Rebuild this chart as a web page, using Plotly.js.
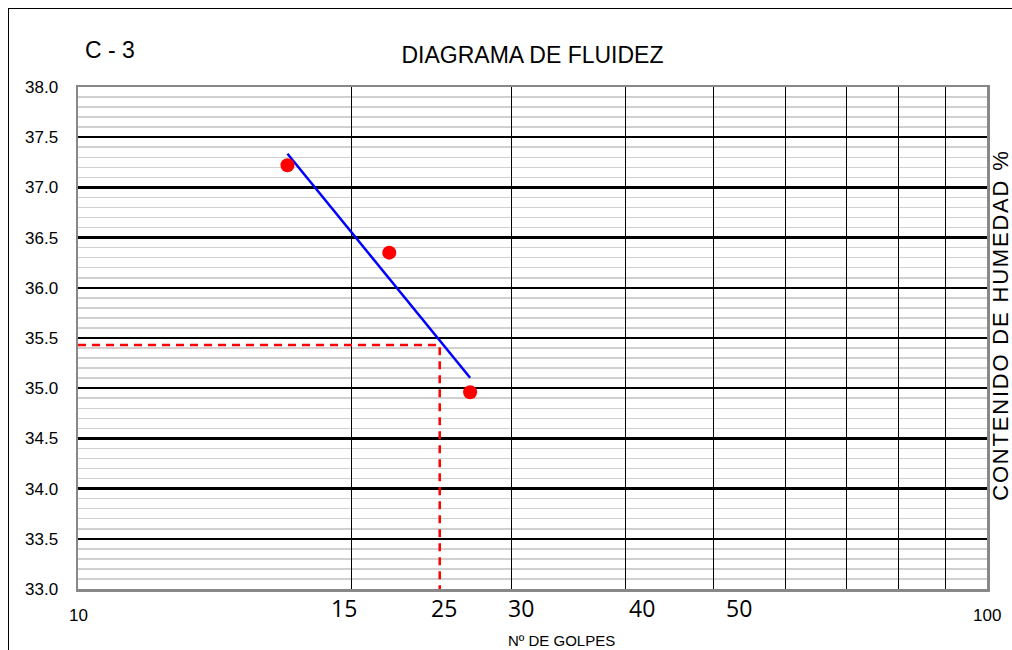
<!DOCTYPE html>
<html>
<head>
<meta charset="utf-8">
<script src="https://cdn.plot.ly/plotly-3.0.1.min.js"></script>
<style>
  html, body { margin: 0; padding: 0; background: #fff; }
  #wrap { position: relative; width: 1012px; height: 650px; overflow: hidden; }
  #frame { position: absolute; left: 8px; top: 8px; width: 1020px; height: 660px;
           border-left: 1.5px solid #000; border-top: 1.5px solid #000; pointer-events: none; }
  #chart { position: absolute; left: 0; top: 0; width: 1012px; height: 650px; }
</style>
</head>
<body>
<div id="wrap">
  <div id="chart"></div>
  <div id="frame"></div>
</div>
<script>
// Ensayo de límite líquido, muestra C - 3
const golpes = [17, 22, 27];            // Nº de golpes
const humedad = [37.22, 36.35, 34.96];  // contenido de humedad (%)
const golpesRef = 25;                   // golpes de referencia
const limiteLiquido = 35.43;            // humedad a 25 golpes

// Rótulos del eje horizontal
const rotulosExtremos = ['10', '100'];
const valoresExtremos = [10, 100];
const rotulosIntermedios = ['15', '25', '30', '40', '50'];
const posRotulosIntermedios = [19.6, 25.3, 30.7, 41.7, 53.4];
const lineasVerticales = [20, 30, 40, 50, 60, 70, 80, 90];

const tituloEjeY = 'CONTENIDO DE HUMEDAD %';

// Recta de ajuste: humedad vs log10(golpes), por mínimos cuadrados
const lx = golpes.map(v => Math.log10(v));
const mx = lx.reduce((a, b) => a + b, 0) / lx.length;
const my = humedad.reduce((a, b) => a + b, 0) / humedad.length;
let sxy = 0, sxx = 0;
lx.forEach((v, i) => { sxy += (v - mx) * (humedad[i] - my); sxx += (v - mx) * (v - mx); });
const pendiente = sxy / sxx;
const ajusteX = [golpes[0], golpes[golpes.length - 1]];
const ajusteY = ajusteX.map(v => my + pendiente * (Math.log10(v) - mx));

const trazas = [
  { x: [10, golpesRef, golpesRef], y: [limiteLiquido, limiteLiquido, 33],
    mode: 'lines', line: { color: '#ff0000', width: 2.5, dash: '8px,6px' },
    hoverinfo: 'skip', showlegend: false, cliponaxis: false },
  { x: ajusteX, y: ajusteY, mode: 'lines',
    line: { color: '#0000ff', width: 2.5 }, showlegend: false },
  { x: golpes, y: humedad, mode: 'markers',
    marker: { color: '#ff0000', size: 14 }, showlegend: false }
];

const anotaciones = [];
rotulosExtremos.forEach((t, i) => anotaciones.push({
  x: Math.log10(valoresExtremos[i]), y: 0, xref: 'x', yref: 'paper', yshift: -26,
  text: t, showarrow: false, xanchor: 'center', yanchor: 'middle',
  font: { family: 'Liberation Sans, Arial', size: 17, color: '#000' }
}));
rotulosIntermedios.forEach((t, i) => anotaciones.push({
  x: Math.log10(posRotulosIntermedios[i]), y: 0, xref: 'x', yref: 'paper', yshift: -19,
  text: t, showarrow: false, xanchor: 'center', yanchor: 'middle',
  font: { family: 'Open Sans, Noto Sans', size: 23, color: '#000' }
}));
anotaciones.push({
  x: 0.532, y: 0, xref: 'paper', yref: 'paper', yshift: -51,
  text: 'Nº DE GOLPES', showarrow: false, xanchor: 'center', yanchor: 'middle',
  font: { family: 'Liberation Sans, Arial', size: 15, color: '#000' }
});
anotaciones.push({
  x: 1, y: 0.526, xref: 'paper', yref: 'paper', xshift: 14,
  text: tituloEjeY, textangle: -90, showarrow: false,
  xanchor: 'center', yanchor: 'middle',
  font: { family: 'Liberation Sans, Arial', size: 22, color: '#000' }
});
anotaciones.push({
  x: 0.035, y: 1, xref: 'paper', yref: 'paper', yshift: 37,
  text: 'C - 3', showarrow: false, xanchor: 'center', yanchor: 'middle',
  font: { family: 'Liberation Sans, Arial', size: 23, color: '#000' }
});

const layout = {
  width: 1012, height: 650,
  margin: { l: 78, r: 25, t: 87, b: 61 },
  paper_bgcolor: '#fff', plot_bgcolor: '#fff',
  title: { text: 'DIAGRAMA DE FLUIDEZ', x: 0.5, xref: 'paper', y: 1 - 55 / 650, yanchor: 'middle',
           font: { family: 'Liberation Sans, Arial', size: 23, color: '#000' } },
  xaxis: {
    type: 'log', range: [1, 2], tickmode: 'array', tickvals: lineasVerticales,
    showticklabels: false, ticks: '', showgrid: true, gridcolor: '#000', gridwidth: 1,
    showline: true, mirror: true, linecolor: '#888', linewidth: 2.5, zeroline: false,
    fixedrange: true
  },
  yaxis: {
    range: [33, 38], dtick: 0.5, tick0: 33, tickformat: '.1f',
    showgrid: true, gridcolor: '#000', gridwidth: 2.5,
    minor: { dtick: 0.1, tick0: 33, showgrid: true, gridcolor: '#d0d0d0', gridwidth: 1.5 },
    ticks: 'outside', ticklen: 14, tickcolor: 'rgba(0,0,0,0)',
    tickfont: { family: 'Liberation Sans, Arial', size: 17, color: '#000' },
    showline: true, mirror: true, linecolor: '#888', linewidth: 2.5, zeroline: false,
    fixedrange: true
  },
  shapes: valoresExtremos.map(v => ({
    type: 'line', xref: 'x', yref: 'paper', x0: Math.log10(v), x1: Math.log10(v),
    y0: 0, y1: -0.012, line: { color: '#888', width: 1.5 }
  })),
  annotations: anotaciones,
  showlegend: false
};

Plotly.newPlot('chart', trazas, layout, { displayModeBar: false, staticPlot: true }).then(() => {
  // Título vertical con letras espaciadas
  document.querySelectorAll('#chart .annotation-text').forEach(el => {
    if (el.textContent === tituloEjeY) el.style.letterSpacing = '1.8px';
  });
});
</script>
</body>
</html>
